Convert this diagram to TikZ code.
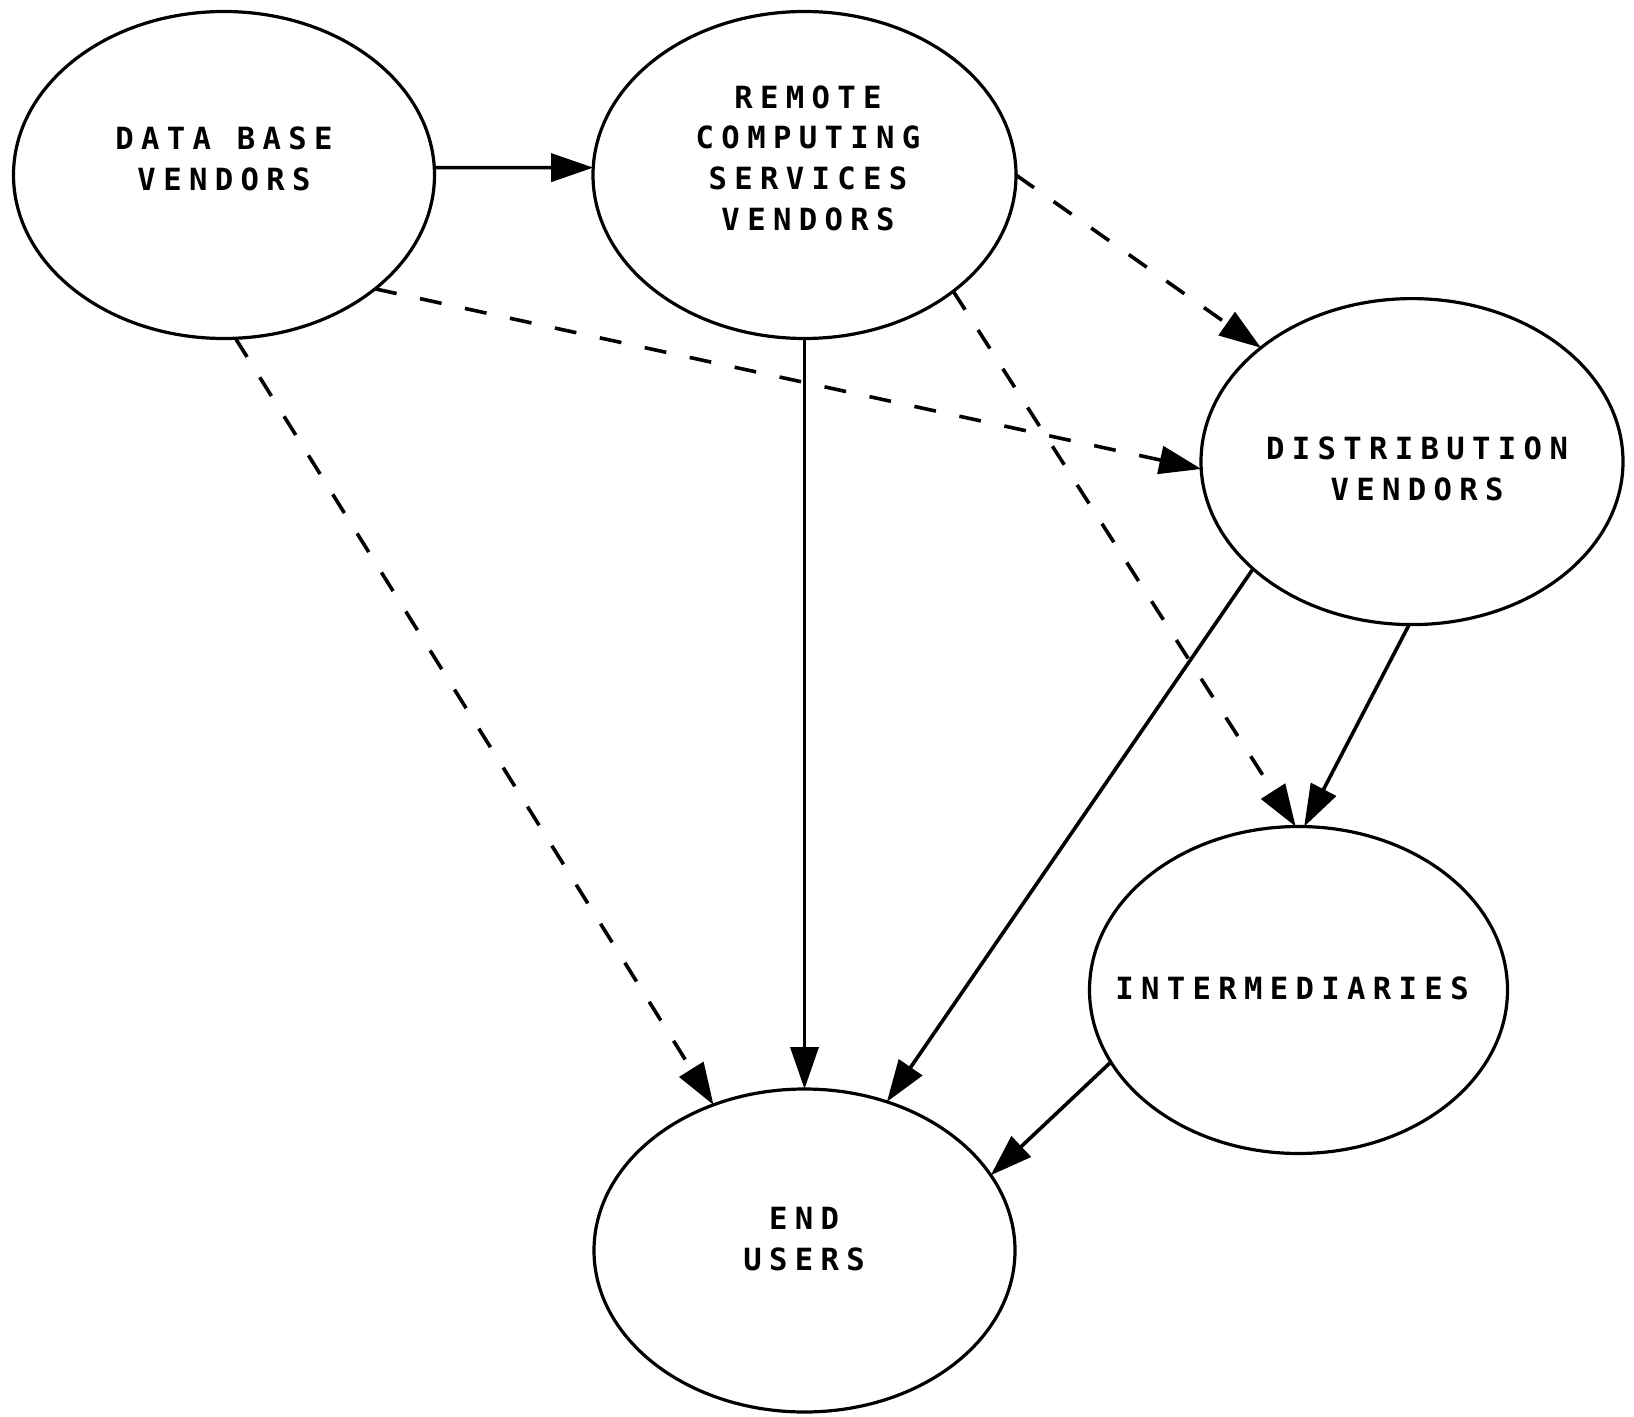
\documentclass[tikz,border=0pt]{standalone}
\usepackage{fontspec}
\newfontfamily\lblfont[LetterSpace=24]{DejaVu Sans Mono}
\usetikzlibrary{shapes.geometric,arrows.meta}
\begin{document}
\begin{tikzpicture}[x=0.5pt,y=-0.5pt,
 oval/.style={draw, ellipse, line width=1.6pt, inner sep=0pt, outer sep=0pt},
 lbl/.style={align=center, font=\lblfont\bfseries\fontsize{15.3}{20.3}\selectfont, inner sep=0pt},
 link/.style={line width=1.8pt, -{Triangle[length=21pt,width=14pt]}},
 dlink/.style={link, dash pattern=on 11pt off 12pt}]
\useasboundingbox[fill=white] (0,0) rectangle (1634,1417);
\node[oval, minimum width=210.5pt, minimum height=163.5pt] (db) at (224,175) {};
\node[oval, minimum width=211.5pt, minimum height=163.5pt] (rcs) at (804.5,175) {};
\node[oval, minimum width=211pt, minimum height=163pt] (dist) at (1412,461.6) {};
\node[oval, minimum width=209pt, minimum height=163.5pt] (int) at (1298.5,990) {};
\node[oval, minimum width=210.5pt, minimum height=161.5pt] (eu) at (804.5,1250.5) {};
\node[lbl] (dbt) at (224,159) {DATA BASE\\VENDORS};
\node[lbl] (rcst) at (808,158) {REMOTE\\COMPUTING\\SERVICES\\VENDORS};
\node[lbl] (distt) at (1417,469) {DISTRIBUTION\\VENDORS};
\node[lbl] (intt) at (1292,988) {INTERMEDIARIES};
\node[lbl] (eut) at (804,1239) {END\\USERS};
\draw[link] (db.2) -- (rcs.178);
\draw[dlink] (rcs.0) -- (dist.143);
\draw[dlink] (db.323) -- (dist.182);
\draw[dlink] (db.274) -- (eu.122);
\draw[link] (rcs.270) -- (eu.90);
\draw[link] (dist.214) -- (eu.61);
\draw[link] (dist.269) -- (int.88);
\draw[dlink] (rcs.322) -- (int.91);
\draw[link] (int.201) -- (eu.22);
\end{tikzpicture}
\end{document}
